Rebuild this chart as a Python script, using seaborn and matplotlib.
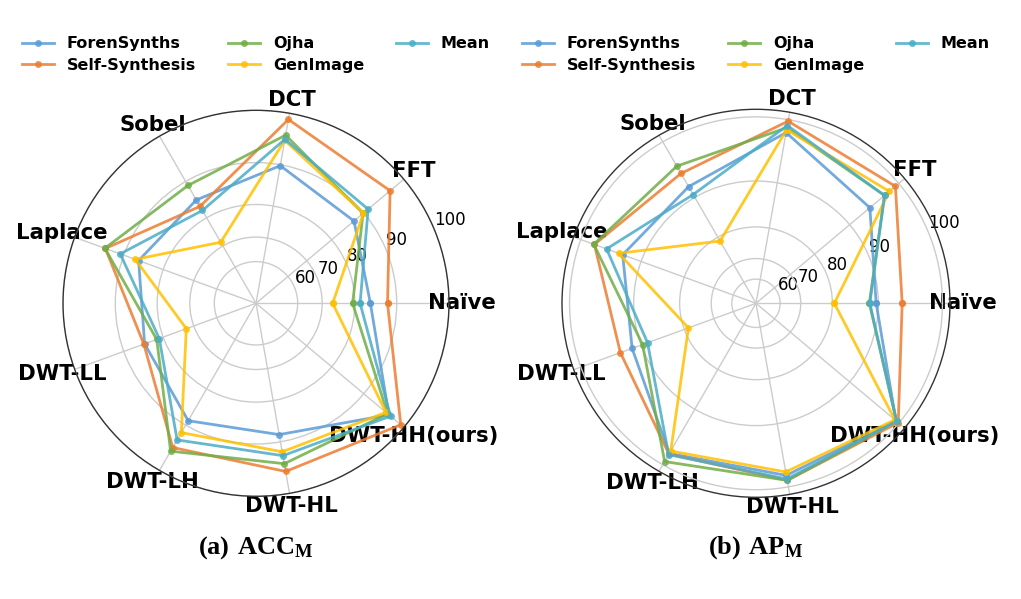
import numpy as np
import pandas as pd
import matplotlib
matplotlib.use("Agg")
import matplotlib.pyplot as plt
from matplotlib.lines import Line2D
import seaborn as sns

plt.rcParams['font.family'] = ['DejaVu Sans']
plt.rcParams['mathtext.fontset'] = 'custom'
plt.rcParams['mathtext.bf'] = 'Liberation Serif:bold'
plt.rcParams['mathtext.rm'] = 'Liberation Serif'

categories = ['Naïve', 'FFT', 'DCT', 'Sobel', 'Laplace', 'DWT-LL', 'DWT-LH', 'DWT-HL', 'DWT-HH(ours)']
methods = ['ForenSynths', 'Self-Synthesis', 'Ojha', 'GenImage', 'Mean']
colors = ['#5B9BD5', '#ED7D31', '#70AD47', '#FFC000', '#4BACC6']

acc_forensynths = [84.0, 87.2, 89.8, 85.2, 86.5, 85.0, 88.9, 88.4, 96.5]
acc_selfsynth = [88.0, 96.8, 98.9, 83.4, 94.0, 85.2, 95.2, 96.0, 99.3]
acc_ojha = [79.4, 89.8, 96.0, 89.0, 94.1, 81.8, 96.0, 94.5, 96.2]
acc_genimage = [73.5, 89.9, 95.0, 71.5, 87.3, 72.7, 91.8, 92.1, 95.8]
acc_mean = [81.4, 91.2, 95.2, 82.2, 90.8, 81.1, 93.5, 92.9, 96.9]

ap_forensynths = [89.6, 94.5, 98.2, 92.2, 93.4, 91.7, 98.2, 98.4, 99.5]
ap_selfsynth = [94.1, 99.4, 99.8, 94.7, 98.0, 93.8, 98.3, 99.1, 99.9]
ap_ojha = [88.3, 97.4, 98.9, 96.0, 98.1, 89.7, 99.5, 99.1, 99.6]
ap_genimage = [80.5, 98.3, 98.6, 78.8, 94.1, 78.8, 97.8, 97.9, 99.3]
ap_mean = [88.4, 97.4, 99.2, 90.6, 96.1, 88.7, 98.4, 98.9, 99.6]

r_ticks = [60, 70, 80, 90, 100]
r_ticklabels = ['60', '70', '80', '90', '100']

acc_series = [acc_forensynths, acc_selfsynth, acc_ojha, acc_genimage, acc_mean]
ap_series = [ap_forensynths, ap_selfsynth, ap_ojha, ap_genimage, ap_mean]

n = len(categories)
theta = np.deg2rad(np.arange(n) * 360.0 / n)
theta_closed = np.append(theta, 2 * np.pi)


def make_df(series):
    rows = []
    for m, vals in zip(methods, series):
        vals_closed = list(vals) + [vals[0]]
        for t, v in zip(theta_closed, vals_closed):
            rows.append({'theta': t, 'value': v, 'method': m})
    return pd.DataFrame(rows)


W, H = 1021, 599
fig = plt.figure(figsize=(W / 100, H / 100), dpi=100)
ax1 = fig.add_axes([63 / W, (H - 303.3 - 193) / H, 386 / W, 386 / H], projection='polar')
ax2 = fig.add_axes([(756 - 194) / W, (H - 303.3 - 194) / H, 388 / W, 388 / H], projection='polar')


def setup(ax, series, power, rmax, cx, caption):
    df = make_df(series)
    sns.lineplot(data=df, x='theta', y='value', hue='method', hue_order=methods,
                 palette=colors, sort=False, estimator=None, marker='o',
                 markersize=5, markeredgewidth=0, linewidth=2, alpha=0.85,
                 legend=False, ax=ax)
    fwd = lambda v: np.sign(v) * np.abs(v) ** power
    inv = lambda r: np.sign(r) * np.abs(r) ** (1.0 / power)
    ax.set_rscale('function', functions=(fwd, inv))
    ax.set_ylim(0, rmax)
    ax.set_yticks(r_ticks)
    ax.set_yticklabels(r_ticklabels, fontsize=12)
    ax.set_rlabel_position(22.5)
    ax.set_xticks(theta)
    ax.set_xticklabels(categories, fontsize=15.3, fontweight='bold')
    ax.set_xlabel('')
    ax.set_ylabel('')
    ax.grid(True, color='#cccccc', linewidth=1.0)
    ax.spines['polar'].set_color('#333333')
    ax.spines['polar'].set_linewidth(1.0)
    ax.tick_params(axis='x', pad=-1)
    handles = [Line2D([0], [0], color=c, marker='o', markersize=5, markeredgewidth=0,
                      linewidth=2, alpha=0.85) for c in colors]
    ax.legend(handles, methods, loc='upper center', bbox_to_anchor=(cx / W, 1 - 22 / H),
              bbox_transform=fig.transFigure, ncol=3, frameon=False,
              prop={'weight': 'bold', 'size': 11.5}, labelspacing=0.4,
              columnspacing=2.0, handlelength=2.0, handletextpad=0.8)
    fig.text(cx / W, 1 - 548 / H, caption, ha='center', va='center', fontsize=19)


setup(ax1, acc_series, 3, 100, 256, r'$\mathbf{(a)\ ACC_M}$')
setup(ax2, ap_series, 4, 101, 756, r'$\mathbf{(b)\ AP_M}$')

fig.savefig('out.png', dpi=100)
